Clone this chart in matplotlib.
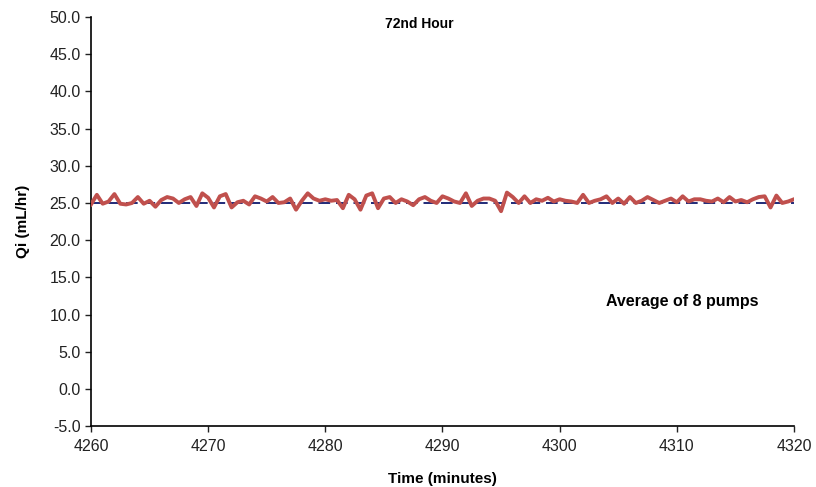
import numpy as np
import matplotlib
matplotlib.use("Agg")
import matplotlib.pyplot as plt

plt.rcParams['font.family'] = ['Liberation Sans', 'DejaVu Sans']

# time in minutes, every half minute
minutes = np.arange(4260, 4320.5, 0.5)
qi = [24.8, 26.1, 24.9, 25.2, 26.2, 24.9, 24.8, 25.0, 25.8, 24.9, 25.3,
      24.5, 25.4, 25.8, 25.6, 25.0, 25.5, 25.8, 24.6, 26.3, 25.7,
      24.4, 25.9, 26.2, 24.4, 25.1, 25.3, 24.8, 25.9, 25.6, 25.2,
      25.8, 25.0, 25.1, 25.6, 24.1, 25.3, 26.3, 25.6, 25.3, 25.5,
      25.3, 25.4, 24.3, 26.1, 25.5, 24.1, 26.0, 26.3, 24.3, 25.6,
      25.8, 25.0, 25.5, 25.2, 24.7, 25.5, 25.8, 25.3, 25.0, 25.9,
      25.6, 25.2, 25.0, 26.3, 24.6, 25.3, 25.6, 25.6, 25.3, 23.9,
      26.4, 25.8, 25.0, 25.9, 25.0, 25.5, 25.3, 25.7, 25.2, 25.5,
      25.3, 25.2, 25.0, 26.1, 25.0, 25.3, 25.5, 25.9, 25.0, 25.6,
      24.9, 25.8, 25.0, 25.3, 25.8, 25.4, 25.0, 25.3, 25.6, 25.1,
      25.9, 25.2, 25.5, 25.5, 25.3, 25.2, 25.6, 25.1, 25.8, 25.2,
      25.4, 25.1, 25.5, 25.8, 25.9, 24.4, 26.0, 25.0, 25.2, 25.5]
target = 25.0

fig = plt.figure(figsize=(8.16, 4.87), dpi=100)
ax = fig.add_axes([0.1115, 0.125, 0.8615, 0.84])

ax.axhline(target, color='#1f2a78', lw=1.4, ls=(0, (6, 3)), zorder=2)
ax.plot(minutes, qi, color='#c0504d', lw=2.8, zorder=3)

ax.set_xlim(4260, 4320)
ax.set_ylim(-5, 50)
ax.set_xticks(np.arange(4260, 4321, 10))
ax.set_yticks(np.arange(-5, 50.1, 5))
ax.yaxis.set_major_formatter(matplotlib.ticker.FormatStrFormatter('%.1f'))
for s in ['top', 'right']:
    ax.spines[s].set_visible(False)
for s in ['left', 'bottom']:
    ax.spines[s].set_linewidth(1.2)
ax.tick_params(direction='out', length=4, width=1, labelsize=11.5, colors='#222222')
ax.tick_params(axis='x', pad=5)

ax.set_xlabel('Time (minutes)', fontsize=11, fontweight='bold', labelpad=13)
ax.set_ylabel('Qi (mL/hr)', fontsize=11, fontweight='bold', labelpad=14)

ax.text(4288, 49, '72nd Hour', ha='center', va='center', fontsize=10, fontweight='bold')
ax.text(4310.5, 11.7, 'Average of 8 pumps', ha='center', va='center', fontsize=11.5, fontweight='bold')

fig.savefig('out.png', dpi=100)
